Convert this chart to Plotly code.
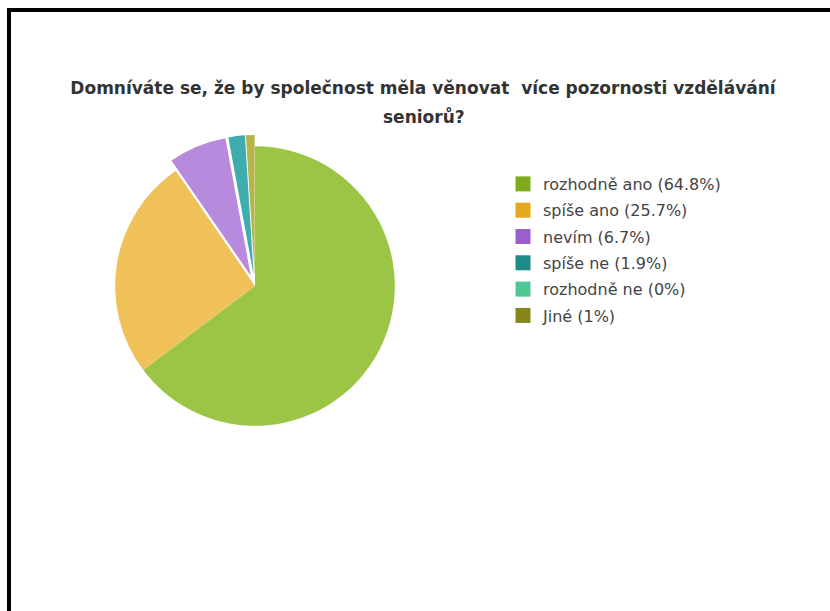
import plotly.graph_objects as go

categories = ["rozhodně ano", "spíše ano", "nevím", "spíše ne", "rozhodně ne", "Jiné"]
percent = [64.8, 25.7, 6.7, 1.9, 0.0, 1.0]
colors = ["#7fac1c", "#e5a91e", "#9a5fcc", "#1e8a8a", "#4dc894", "#85851a"]
face_colors = ["#9cc545", "#f0c158", "#b78ade", "#3fadad", "#6fd6a8", "#b5b548"]
pulls = [0, 0, 0.08, 0.08, 0.08, 0.08]
legend_labels = [f"{c} ({p:g}%)" for c, p in zip(categories, percent)]
title_line1 = "Domníváte se, že by společnost měla věnovat  více pozornosti vzdělávání"
title_line2 = "seniorů?"

W, H = 830, 611

fig = go.Figure()
fig.add_trace(go.Pie(
    labels=categories, values=percent, sort=False, direction="clockwise", rotation=0,
    marker=dict(colors=face_colors, line=dict(width=0)), pull=pulls,
    textinfo="none", hoverinfo="label+percent", showlegend=False,
    domain=dict(x=[(255 - 152) / W, (255 + 152) / W], y=[1 - 437 / H, 1 - 135 / H]),
))
for lab, col in zip(legend_labels, colors):
    fig.add_trace(go.Scatter(
        x=[None], y=[None], mode="markers", name=lab, legendgroup=lab,
        marker=dict(symbol="square", size=15, color=col),
    ))

title_font = dict(family="DejaVu Sans", size=17, color="#333333", weight="bold")
fig.update_layout(
    width=W, height=H,
    margin=dict(l=0, r=0, t=0, b=0),
    paper_bgcolor="white", plot_bgcolor="white",
    xaxis=dict(visible=False), yaxis=dict(visible=False),
    title=dict(text=title_line1, x=423 / W, xanchor="center", y=1 - 88 / H, yanchor="middle",
               yref="container", font=title_font),
    annotations=[dict(text=title_line2, x=424 / W, y=1 - 117 / H, xref="paper", yref="paper",
                      xanchor="center", yanchor="middle", showarrow=False, font=title_font)],
    font=dict(family="DejaVu Sans", size=16, color="#444444"),
    legend=dict(x=503 / W, y=1 - 167 / H, xanchor="left", yanchor="top",
                tracegroupgap=2.5, font=dict(size=16, color="#444444"),
                bgcolor="rgba(0,0,0,0)"),
    shapes=[dict(type="rect", xref="paper", yref="paper", x0=9 / W, x1=1.2,
                 y0=-0.2, y1=1 - 10 / H, line=dict(color="black", width=4))],
)
fig.write_html("out.html", config={"displayModeBar": False},
               post_script="document.body.style.margin='0';")
